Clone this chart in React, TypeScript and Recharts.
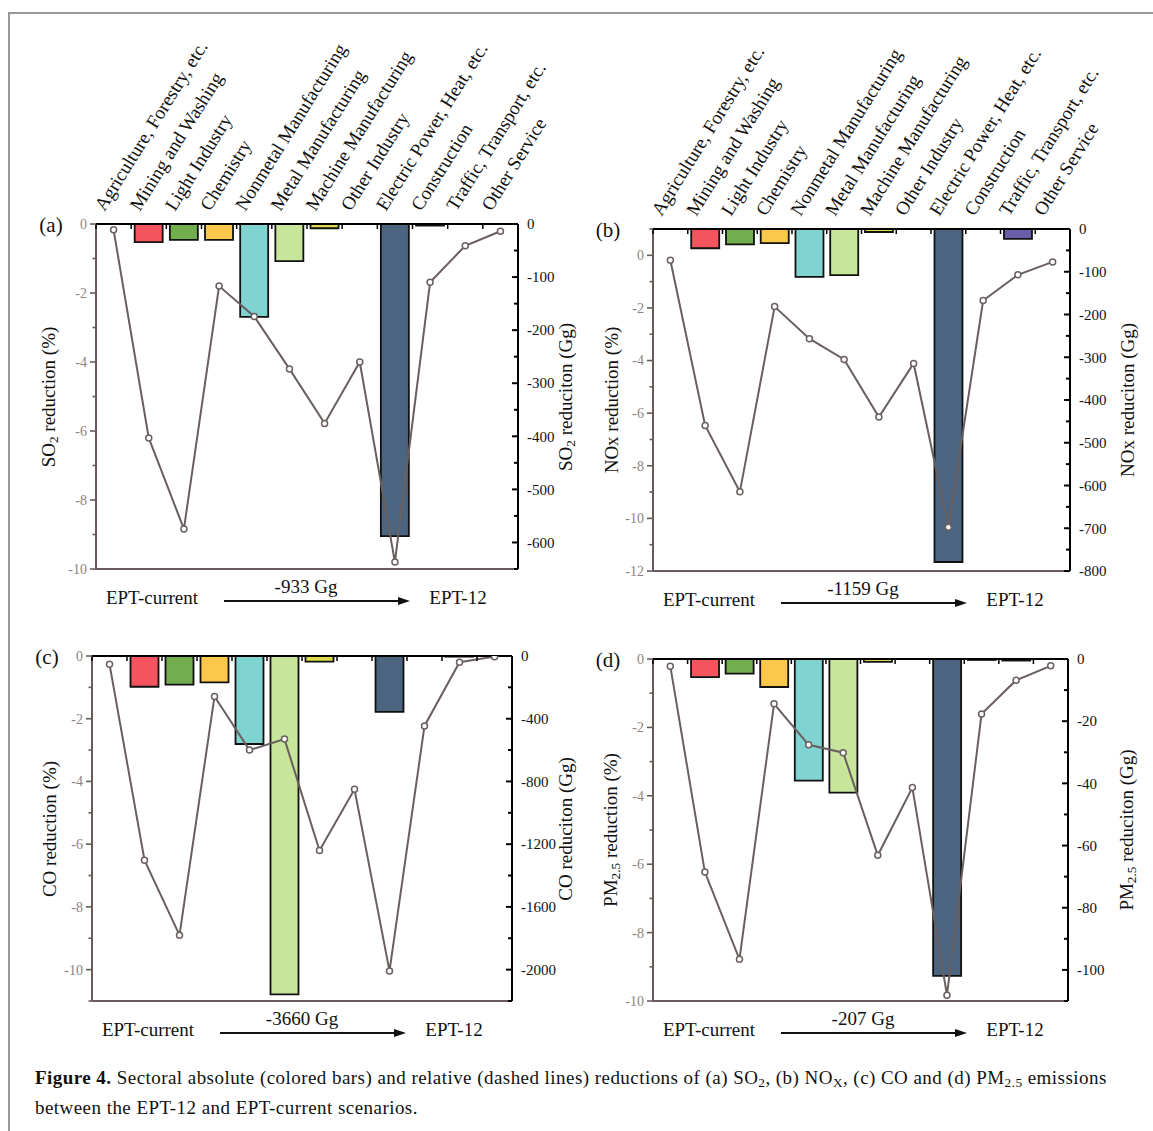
import React from "react";
import {
  ComposedChart,
  Bar,
  Line,
  Cell,
  XAxis,
  YAxis,
  ReferenceLine,
} from "recharts";

const FONT = '"Liberation Serif", "Times New Roman", serif';

const sectors = [
  "Agriculture, Forestry, etc.",
  "Mining and Washing",
  "Light Industry",
  "Chemistry",
  "Nonmetal Manufacturing",
  "Metal Manufacturing",
  "Machine Manufacturing",
  "Other Industry",
  "Electric Power, Heat, etc.",
  "Construction",
  "Traffic, Transport, etc.",
  "Other Service",
];

const sectorColors = [
  "#e8833a", "#f4545d", "#72ad4e", "#fcc84b", "#7fd3d1", "#c8e69b",
  "#dedb4b", "#9a9a9a", "#4b6580", "#6e5d52", "#6b5ea8", "#a0a0a0",
];

// absolute reductions (Gg), right axis
const so2Gg = [0, -34, -30, -30, -175, -70, -8, 0, -588, -3, 0, 0];
const noxGg = [0, -45, -36, -33, -112, -108, -7, 0, -779, 0, -23, 0];
const coGg = [0, -196, -182, -168, -561, -2158, -36, 0, -356, 0, -4, 0];
const pmGg = [0, -5.8, -4.7, -9.0, -39.1, -43.0, -0.9, 0, -101.9, -0.3, -0.5, 0];

// relative reductions (%), left axis
const so2Pct = [-0.17, -6.2, -8.84, -1.8, -2.68, -4.2, -5.78, -4.0, -9.8, -1.69, -0.63, -0.21];
const noxPct = [-0.19, -6.47, -8.99, -1.95, -3.17, -3.96, -6.15, -4.11, -10.34, -1.72, -0.74, -0.25];
const coPct = [-0.26, -6.51, -8.9, -1.29, -3.0, -2.65, -6.2, -4.25, -10.04, -2.23, -0.2, -0.02];
const pmPct = [-0.21, -6.23, -8.78, -1.31, -2.51, -2.74, -5.74, -3.76, -9.83, -1.61, -0.62, -0.2];

// axis ticks
const pctTicks10 = [-10, -9, -8, -7, -6, -5, -4, -3, -2, -1, 0];
const pctTicks11 = [-11, -10, -9, -8, -7, -6, -5, -4, -3, -2, -1, 0];
const pctTicksNox = [-12, -11, -10, -9, -8, -7, -6, -5, -4, -3, -2, -1, 0, 1];
const pctMajor = [-12, -10, -8, -6, -4, -2, 0];

const so2Ticks = [-650, -600, -550, -500, -450, -400, -350, -300, -250, -200, -150, -100, -50, 0];
const so2Major = [-600, -500, -400, -300, -200, -100, 0];
const noxTicks = [-800, -750, -700, -650, -600, -550, -500, -450, -400, -350, -300, -250, -200, -150, -100, -50, 0];
const noxMajor = [-800, -700, -600, -500, -400, -300, -200, -100, 0];
const coTicks = [-2200, -2000, -1800, -1600, -1400, -1200, -1000, -800, -600, -400, -200, 0];
const coMajor = [-2000, -1600, -1200, -800, -400, 0];
const pmTicks = [-110, -100, -90, -80, -70, -60, -50, -40, -30, -20, -10, 0];
const pmMajor = [-100, -80, -60, -40, -20, 0];

const LINE_COLOR = "#6a5f5f";
const LEFT_AXIS = "#6a5a5a";

type PanelProps = {
  letter: string;
  left: number;
  top: number;
  w: number;
  h: number;
  gg: number[];
  pct: number[];
  pctDomain: number[];
  pctTicks: number[];
  ggDomain: number[];
  ggTicks: number[];
  ggMajor: number[];
  leftTitle: React.ReactNode;
  rightTitle: React.ReactNode;
  leftTitleX: number;
  rightTitleX: number;
  showCats: boolean;
  total: string;
};

const Panel = (p: PanelProps) => {
  const wL = 45;
  const wR = 60;
  const hT = p.showCats ? 215 : 8;
  const hB = 14;
  const band = p.w / sectors.length;
  const data = sectors.map((name, i) => ({ name, gg: p.gg[i], pct: p.pct[i] }));

  const catTick = (props: any) => {
    const { x, y, payload, index } = props;
    const lx = x - 9;
    const ly = y - 12;
    return (
      <g>
        <line x1={x - band / 2} x2={x - band / 2} y1={y} y2={y + 5} stroke="#000" strokeWidth={1.5} />
        {index === sectors.length - 1 && (
          <line x1={x + band / 2} x2={x + band / 2} y1={y} y2={y + 5} stroke="#000" strokeWidth={1.5} />
        )}
        {p.showCats && (
          <text
            x={lx}
            y={ly}
            transform={`rotate(-58, ${lx}, ${ly})`}
            textAnchor="start"
            fontSize={19}
            fontFamily={FONT}
            fill="#111"
          >
            {payload.value}
          </text>
        )}
      </g>
    );
  };

  const leftTick = (props: any) => {
    const { x, y, payload } = props;
    const major = pctMajor.includes(payload.value);
    return (
      <g>
        <line x1={x} x2={x - (major ? 6 : 3.5)} y1={y} y2={y} stroke={LEFT_AXIS} strokeWidth={1.6} />
        {major && (
          <text x={x - 9} y={y} dy="0.35em" textAnchor="end" fontSize={14} fontFamily={FONT} fill="#8c8282">
            {payload.value}
          </text>
        )}
      </g>
    );
  };

  const rightTick = (props: any) => {
    const { x, y, payload } = props;
    const major = p.ggMajor.includes(payload.value);
    return (
      <g>
        <line x1={x} x2={x - (major ? 6 : 4)} y1={y} y2={y} stroke="#000" strokeWidth={2} />
        {major && (
          <text x={x + 9} y={y} dy="0.35em" textAnchor="start" fontSize={15} fontFamily={FONT} fill="#111">
            {payload.value}
          </text>
        )}
      </g>
    );
  };

  const textStyle: React.CSSProperties = {
    position: "absolute",
    fontFamily: FONT,
    fontSize: 19,
    color: "#111",
    whiteSpace: "nowrap",
    transform: "translate(-50%, -50%)",
  };
  const bottom = p.top + p.h;

  return (
    <>
      <div style={{ position: "absolute", left: p.left - wL, top: p.top - hT }}>
        <ComposedChart
          width={wL + p.w + wR}
          height={hT + p.h + hB}
          data={data}
          margin={{ top: 0, right: 0, bottom: hB, left: 0 }}
        >
          <XAxis
            xAxisId="cat"
            dataKey="name"
            orientation="top"
            height={hT}
            interval={0}
            tickLine={false}
            tickSize={0}
            tickMargin={0}
            axisLine={{ stroke: "#000", strokeWidth: 2 }}
            tick={catTick}
          />
          <YAxis
            yAxisId="pct"
            orientation="left"
            type="number"
            width={wL}
            domain={p.pctDomain}
            ticks={p.pctTicks}
            interval={0}
            allowDataOverflow
            tickLine={false}
            tickSize={0}
            tickMargin={0}
            axisLine={{ stroke: LEFT_AXIS, strokeWidth: 2 }}
            tick={leftTick}
          />
          <YAxis
            yAxisId="gg"
            orientation="right"
            type="number"
            width={wR}
            domain={p.ggDomain}
            ticks={p.ggTicks}
            interval={0}
            allowDataOverflow
            tickLine={false}
            tickSize={0}
            tickMargin={0}
            axisLine={{ stroke: "#000", strokeWidth: 2 }}
            tick={rightTick}
          />
          <ReferenceLine xAxisId="cat" yAxisId="pct" y={p.pctDomain[0]} stroke={LEFT_AXIS} strokeWidth={2} />
          <Bar xAxisId="cat" yAxisId="gg" dataKey="gg" stroke="#111" strokeWidth={1.8} isAnimationActive={false}>
            {data.map((d, i) => (
              <Cell key={d.name} fill={sectorColors[i]} />
            ))}
          </Bar>
          <Line
            xAxisId="cat"
            yAxisId="pct"
            dataKey="pct"
            stroke={LINE_COLOR}
            strokeWidth={2}
            dot={{ r: 3, fill: "#fff", stroke: LINE_COLOR, strokeWidth: 1.5 }}
            isAnimationActive={false}
          />
        </ComposedChart>
      </div>

      <div style={{ ...textStyle, fontSize: 21, left: p.left - 45, top: p.top + 1 }}>({p.letter})</div>
      <div
        style={{
          ...textStyle,
          left: p.leftTitleX,
          top: p.top + p.h / 2,
          transform: "translate(-50%, -50%) rotate(-90deg)",
        }}
      >
        {p.leftTitle}
      </div>
      <div
        style={{
          ...textStyle,
          left: p.rightTitleX,
          top: p.top + p.h / 2,
          transform: "translate(-50%, -50%) rotate(-90deg)",
        }}
      >
        {p.rightTitle}
      </div>

      <div style={{ ...textStyle, left: p.left + 56, top: bottom + 29 }}>EPT-current</div>
      <div style={{ ...textStyle, left: p.left + 210, top: bottom + 18 }}>{p.total}</div>
      <svg
        style={{ position: "absolute", left: p.left + 128, top: bottom + 27 }}
        width={190}
        height={10}
      >
        <line x1={0} x2={176} y1={5} y2={5} stroke="#111" strokeWidth={2} />
        <polygon points="174,1 186,5 174,9" fill="#111" />
      </svg>
      <div style={{ ...textStyle, left: p.left + 362, top: bottom + 29 }}>EPT-12</div>
    </>
  );
};

const sub = (s: string) => (
  <sub style={{ fontSize: "0.7em", verticalAlign: "-0.25em" }}>{s}</sub>
);

const App: React.FC = () => {
  return (
    <div style={{ position: "absolute", left: 0, top: 0, width: 1153, height: 1131, background: "#fff" }}>
      <div style={{ position: "absolute", left: 8, top: 12, width: 1145, height: 2, background: "#999" }} />
      <div style={{ position: "absolute", left: 8, top: 12, width: 2, height: 1119, background: "#999" }} />

      <Panel
        letter="a"
        left={96}
        top={224}
        w={422}
        h={345}
        gg={so2Gg}
        pct={so2Pct}
        pctDomain={[-10, 0]}
        pctTicks={pctTicks10}
        ggDomain={[-650, 0]}
        ggTicks={so2Ticks}
        ggMajor={so2Major}
        leftTitle={<>SO{sub("2")} reduction (%)</>}
        rightTitle={<>SO{sub("2")} reduciton (Gg)</>}
        leftTitleX={50}
        rightTitleX={567}
        showCats
        total="-933 Gg"
      />
      <Panel
        letter="b"
        left={653}
        top={229}
        w={417}
        h={342}
        gg={noxGg}
        pct={noxPct}
        pctDomain={[-12, 1]}
        pctTicks={pctTicksNox}
        ggDomain={[-800, 0]}
        ggTicks={noxTicks}
        ggMajor={noxMajor}
        leftTitle={<>NOx reduction (%)</>}
        rightTitle={<>NOx reduciton (Gg)</>}
        leftTitleX={612}
        rightTitleX={1128}
        showCats
        total="-1159 Gg"
      />
      <Panel
        letter="c"
        left={92}
        top={656}
        w={420}
        h={345}
        gg={coGg}
        pct={coPct}
        pctDomain={[-11, 0]}
        pctTicks={pctTicks11}
        ggDomain={[-2200, 0]}
        ggTicks={coTicks}
        ggMajor={coMajor}
        leftTitle={<>CO reduction (%)</>}
        rightTitle={<>CO reduciton (Gg)</>}
        leftTitleX={50}
        rightTitleX={566}
        showCats={false}
        total="-3660 Gg"
      />
      <Panel
        letter="d"
        left={653}
        top={659}
        w={415}
        h={342}
        gg={pmGg}
        pct={pmPct}
        pctDomain={[-10, 0]}
        pctTicks={pctTicks10}
        ggDomain={[-110, 0]}
        ggTicks={pmTicks}
        ggMajor={pmMajor}
        leftTitle={<>PM{sub("2.5")} reduction (%)</>}
        rightTitle={<>PM{sub("2.5")} reduciton (Gg)</>}
        leftTitleX={612}
        rightTitleX={1128}
        showCats={false}
        total="-207 Gg"
      />

      <div
        style={{
          position: "absolute",
          left: 35,
          top: 1065,
          width: 1110,
          fontFamily: FONT,
          fontSize: 19,
          letterSpacing: "0.45px",
          lineHeight: "25px",
          color: "#111",
          whiteSpace: "nowrap",
        }}
      >
        <b>Figure 4.</b> Sectoral absolute (colored bars) and relative (dashed lines) reductions of (a) SO
        {sub("2")}, (b) NO{sub("X")}, (c) CO and (d) PM{sub("2.5")} emissions
        <br />
        between the EPT-12 and EPT-current scenarios.
      </div>
    </div>
  );
};

export default App;
